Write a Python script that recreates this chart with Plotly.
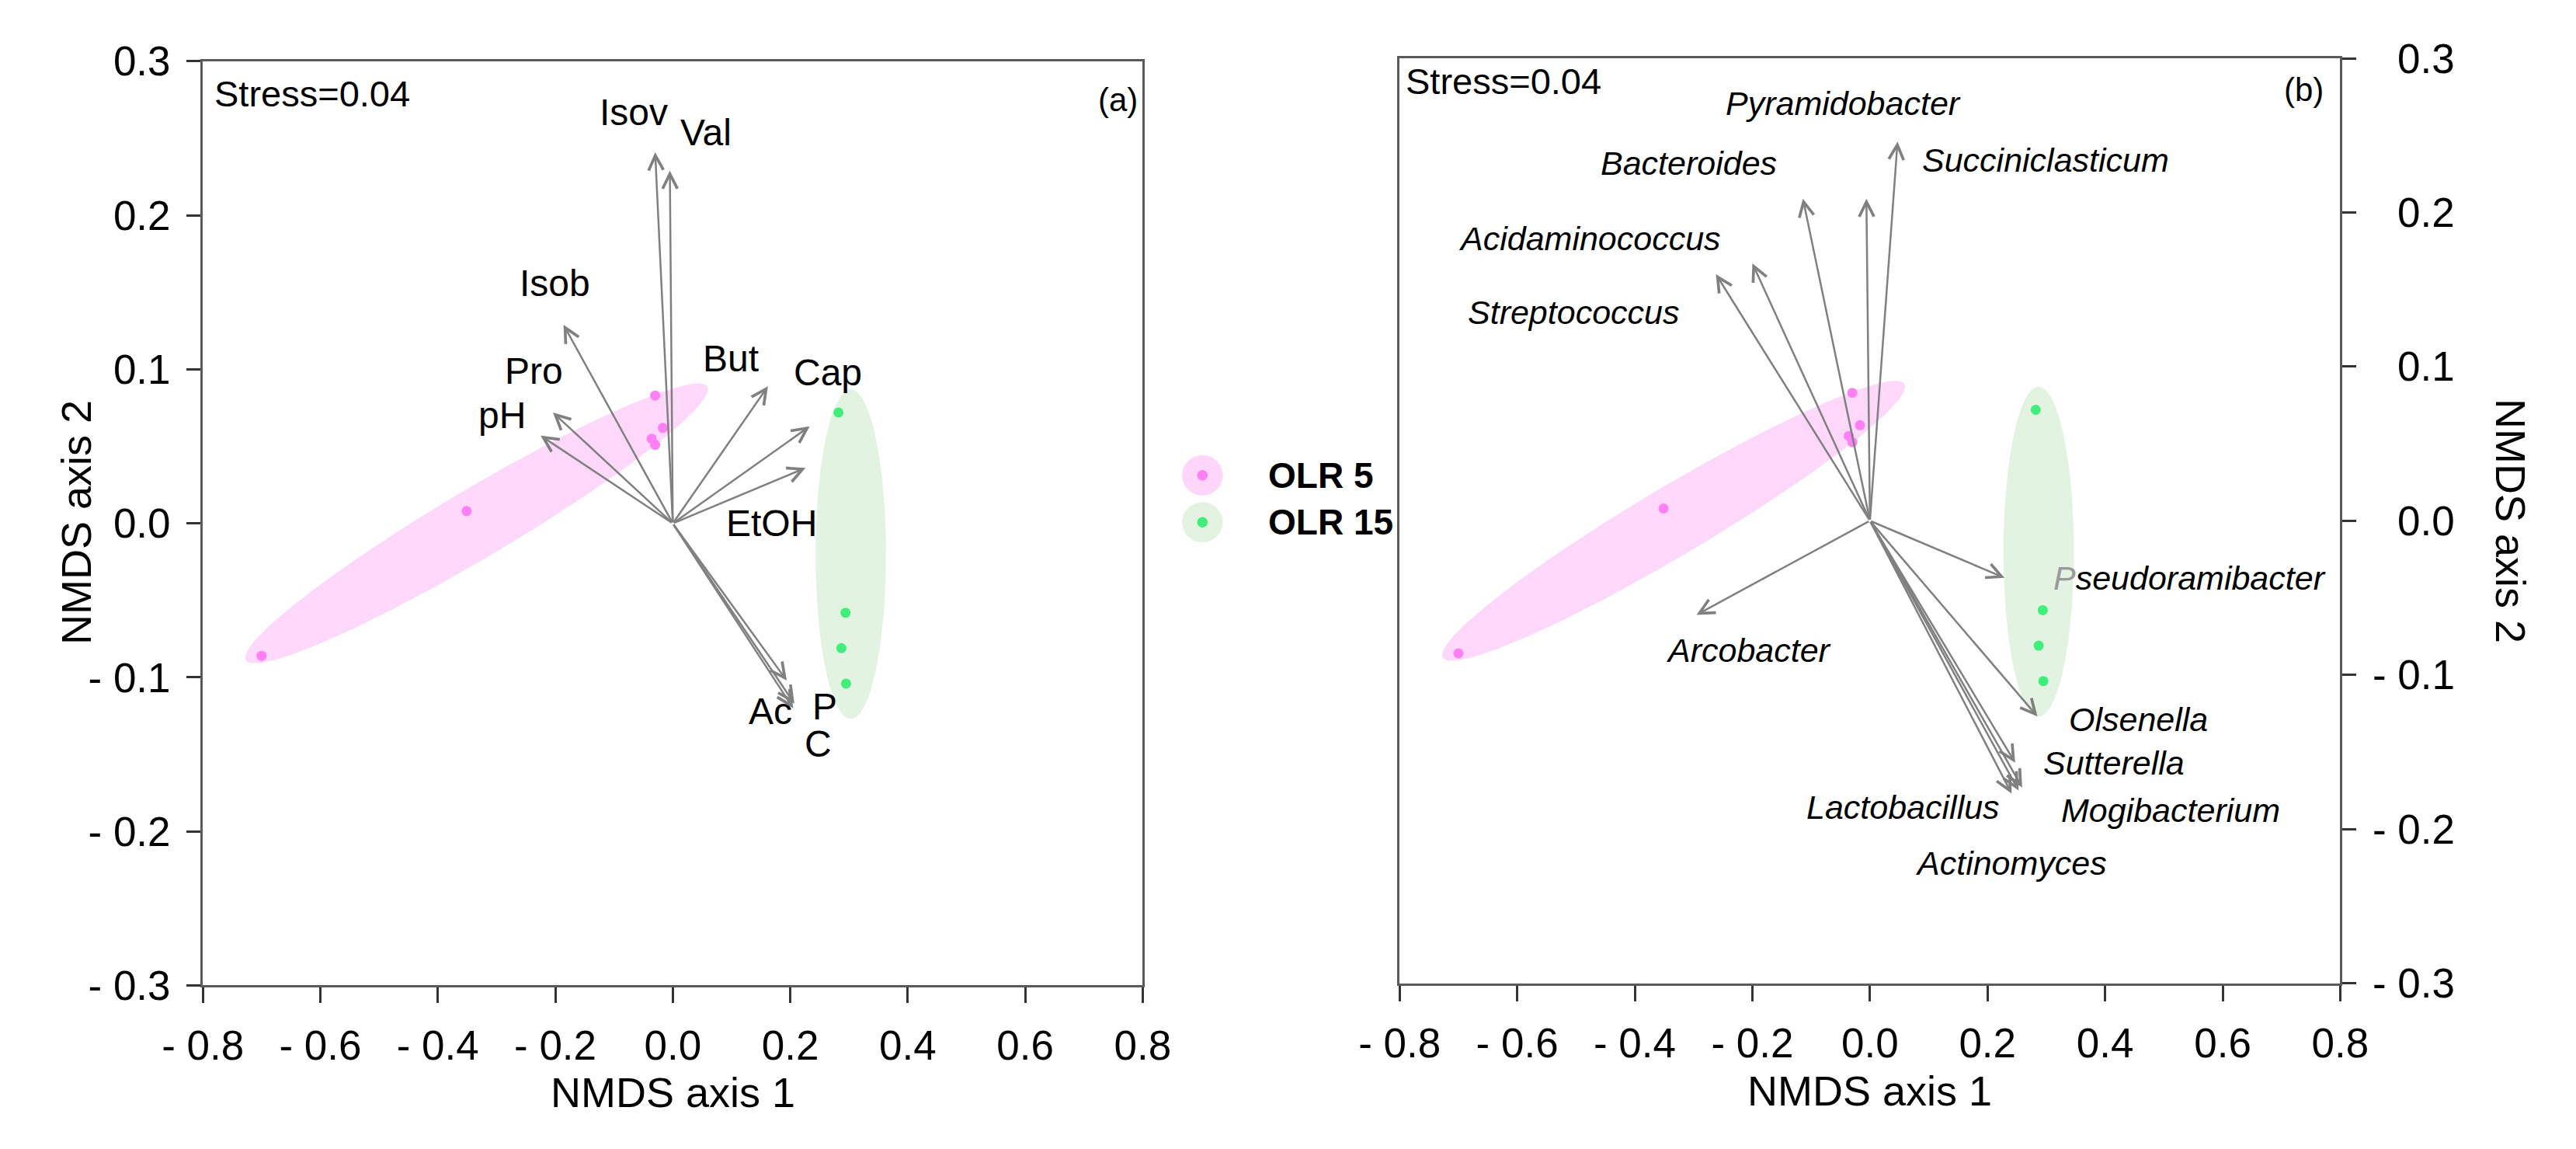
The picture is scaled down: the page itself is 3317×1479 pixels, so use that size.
import numpy as np
import plotly.graph_objects as go

W, H = 3317, 1479
FONT = "Liberation Sans, Arial, sans-serif"

# ---------------- data ----------------
# NMDS sample scores
olr5_x = [-0.030, -0.017, -0.036, -0.030, -0.351, -0.700]
olr5_y = [0.083, 0.062, 0.055, 0.051, 0.008, -0.086]
olr15_x = [0.282, 0.294, 0.287, 0.295]
olr15_y = [0.072, -0.058, -0.081, -0.104]

# group ellipses: centre, semi-axis vectors (data units)
ell5_center = (-0.334, 0.0)
ell5_u = (0.3925, 0.0888)
ell5_v = (-0.0305, 0.0191)
ell15_center_a = (0.303, -0.020)
ell15_center_b = (0.287, -0.020)
ell15_u = (0.0, 0.107)
ell15_v = (0.060, 0.0)

# panel (a) environmental vectors
env_names = ["Isov", "Val", "Isob", "Pro", "pH", "But", "Cap", "EtOH", "Ac", "P", "C"]
env_x = [-0.030, -0.005, -0.186, -0.204, -0.225, 0.162, 0.233, 0.226, 0.194, 0.207, 0.205]
env_y = [0.241, 0.229, 0.129, 0.072, 0.057, 0.089, 0.063, 0.036, -0.102, -0.117, -0.120]
env_lab_x = [-0.066, 0.057, -0.201, -0.237, -0.291, 0.099, 0.264, 0.168, 0.166, 0.259, 0.248]
env_lab_y = [0.267, 0.254, 0.156, 0.099, 0.070, 0.107, 0.098, 0.000, -0.122, -0.119, -0.143]

# panel (b) genus vectors
gen_names = ["Succiniclasticum", "Pyramidobacter", "Bacteroides", "Acidaminococcus",
             "Streptococcus", "Arcobacter", "Pseudoramibacter", "Olsenella",
             "Sutterella", "Mogibacterium", "Actinomyces", "Lactobacillus"]
gen_x = [0.047, -0.006, -0.114, -0.200, -0.262, -0.295, 0.229, 0.285, 0.247, 0.259, 0.253, 0.241]
gen_y = [0.246, 0.209, 0.209, 0.167, 0.160, -0.061, -0.037, -0.127, -0.157, -0.173, -0.175, -0.177]
gen_lab_x = [0.299, -0.046, -0.308, -0.476, -0.505, -0.206, 0.310, 0.456, 0.415, 0.511, 0.240, 0.056]
gen_lab_y = [0.234, 0.271, 0.232, 0.183, 0.135, -0.084, -0.037, -0.129, -0.157, -0.188, -0.222, -0.186]

x_ticks = [-0.8, -0.6, -0.4, -0.2, 0.0, 0.2, 0.4, 0.6, 0.8]
x_ticktext = ["- 0.8", "- 0.6", "- 0.4", "- 0.2", "0.0", "0.2", "0.4", "0.6", "0.8"]
y_ticks = [-0.3, -0.2, -0.1, 0.0, 0.1, 0.2, 0.3]
y_ticktext = ["- 0.3", "- 0.2", "- 0.1", "0.0", "0.1", "0.2", "0.3"]

group_names = ["OLR 5", "OLR 15"]

# ---------------- styles ----------------
PINK_FILL = "rgba(253,214,250,0.95)"
PINK_PT = "#FF80F4"
GREEN_FILL = "rgba(226,242,223,0.95)"
GREEN_PT = "#3FEF7A"
ARROW = "#808080"
AXC = "#5a5a5a"


def ellipse(center, u, v, n=200):
    t = np.linspace(0, 2 * np.pi, n)
    x = center[0] + np.cos(t) * u[0] + np.sin(t) * v[0]
    y = center[1] + np.cos(t) * u[1] + np.sin(t) * v[1]
    return x, y


fig = go.Figure()

for xa, ya, c15 in (("x", "y", ell15_center_a), ("x2", "y2", ell15_center_b)):
    ex, ey = ellipse(ell5_center, ell5_u, ell5_v)
    fig.add_trace(go.Scatter(x=ex, y=ey, fill="toself", fillcolor=PINK_FILL,
                             line=dict(width=0), mode="lines", xaxis=xa, yaxis=ya,
                             showlegend=False, hoverinfo="skip"))
    ex, ey = ellipse(c15, ell15_u, ell15_v)
    fig.add_trace(go.Scatter(x=ex, y=ey, fill="toself", fillcolor=GREEN_FILL,
                             line=dict(width=0), mode="lines", xaxis=xa, yaxis=ya,
                             showlegend=False, hoverinfo="skip"))
    fig.add_trace(go.Scatter(x=olr5_x, y=olr5_y, mode="markers", xaxis=xa, yaxis=ya,
                             marker=dict(color=PINK_PT, size=13), showlegend=False,
                             name=group_names[0]))
    fig.add_trace(go.Scatter(x=olr15_x, y=olr15_y, mode="markers", xaxis=xa, yaxis=ya,
                             marker=dict(color=GREEN_PT, size=13), showlegend=False,
                             name=group_names[1]))

ann = []


def arrow(x, y, xr, yr):
    return dict(x=x, y=y, ax=0, ay=0, xref=xr, yref=yr, axref=xr, ayref=yr,
                showarrow=True, text="", arrowhead=5, arrowsize=1.5,
                arrowwidth=2.5, arrowcolor=ARROW, standoff=0, startstandoff=0)


for i, nm in enumerate(env_names):
    ann.append(arrow(env_x[i], env_y[i], "x", "y"))
    ann.append(dict(x=env_lab_x[i], y=env_lab_y[i], xref="x", yref="y", text=nm,
                    showarrow=False, xanchor="center", yanchor="middle",
                    font=dict(family=FONT, size=48, color="black")))

for i, nm in enumerate(gen_names):
    ann.append(arrow(gen_x[i], gen_y[i], "x2", "y2"))
    if nm == "Pseudoramibacter":
        txt = "<i><span style='color:#9a9a9a'>P</span>seudoramibacter</i>"
        xanc = "left"
    else:
        txt = "<i>" + nm + "</i>"
        xanc = "center"
    ann.append(dict(x=gen_lab_x[i], y=gen_lab_y[i], xref="x2", yref="y2", text=txt,
                    showarrow=False, xanchor=xanc, yanchor="middle",
                    font=dict(family=FONT, size=43, color="black")))

# right panel tick labels (right aligned, as in the original)
for v, t in zip(y_ticks, y_ticktext):
    ann.append(dict(x=3197 / W, y=v, xref="paper", yref="y2", text=t, showarrow=False,
                    xanchor="right", yanchor="middle",
                    font=dict(family=FONT, size=53, color="black")))

# texts
ann += [
    dict(x=227 / W, y=1 - 95 / H, xref="paper", yref="paper", text="Stress=0.04",
         showarrow=False, xanchor="left", yanchor="middle",
         font=dict(family=FONT, size=47, color="black")),
    dict(x=1804 / W, y=1 - 79 / H, xref="paper", yref="paper", text="Stress=0.04",
         showarrow=False, xanchor="left", yanchor="middle",
         font=dict(family=FONT, size=47, color="black")),
    dict(x=1453 / W, y=1 - 104 / H, xref="paper", yref="paper", text="(a)",
         showarrow=False, xanchor="right", yanchor="middle",
         font=dict(family=FONT, size=42, color="black")),
    dict(x=3023 / W, y=1 - 90 / H, xref="paper", yref="paper", text="(b)",
         showarrow=False, xanchor="right", yanchor="middle",
         font=dict(family=FONT, size=42, color="black")),
    dict(x=836 / W, y=1 - 1434 / H, xref="paper", yref="paper", text="NMDS axis 1",
         showarrow=False, xanchor="center", yanchor="middle",
         font=dict(family=FONT, size=54, color="black")),
    dict(x=2420 / W, y=1 - 1432 / H, xref="paper", yref="paper", text="NMDS axis 1",
         showarrow=False, xanchor="center", yanchor="middle",
         font=dict(family=FONT, size=54, color="black")),
    dict(x=47 / W, y=1 - 670 / H, xref="paper", yref="paper", text="NMDS axis 2",
         showarrow=False, xanchor="center", yanchor="middle", textangle=-90,
         font=dict(family=FONT, size=54, color="black")),
    dict(x=3268 / W, y=1 - 668 / H, xref="paper", yref="paper", text="NMDS axis 2",
         showarrow=False, xanchor="center", yanchor="middle", textangle=90,
         font=dict(family=FONT, size=54, color="black")),
]

# legend
shapes = []
leg_cx = 1537
leg_rows = [(607, "rgba(253,214,250,1)", PINK_PT), (670, "rgba(228,243,225,1)", GREEN_PT)]
for (cy, halo, dot), nm in zip(leg_rows, group_names):
    for r, col in ((27, halo), (7, dot)):
        shapes.append(dict(type="circle", xref="paper", yref="paper",
                           x0=(leg_cx - r) / W, x1=(leg_cx + r) / W,
                           y0=1 - (cy + r) / H, y1=1 - (cy - r) / H,
                           fillcolor=col, line=dict(width=0)))
    ann.append(dict(x=1622 / W, y=1 - cy / H, xref="paper", yref="paper",
                    text="<b>" + nm + "</b>", showarrow=False, xanchor="left",
                    yanchor="middle", font=dict(family=FONT, size=46, color="black")))

common_x = dict(range=[-0.8, 0.8], tickvals=x_ticks, ticktext=x_ticktext, ticks="outside",
                ticklen=20, tickwidth=2.5, tickcolor="#333", showline=True, mirror=True,
                linecolor=AXC, linewidth=3, showgrid=False, zeroline=False,
                tickfont=dict(family=FONT, size=53, color="black"), ticklabelstandoff=9)
common_y = dict(range=[-0.3, 0.3], tickvals=y_ticks, ticktext=y_ticktext, ticks="outside",
                ticklen=18, tickwidth=2.5, tickcolor="#333", showline=True, mirror=True,
                linecolor=AXC, linewidth=3, showgrid=False, zeroline=False,
                tickfont=dict(family=FONT, size=53, color="black"))

fig.update_layout(
    width=W, height=H, margin=dict(l=0, r=0, t=0, b=0),
    paper_bgcolor="white", plot_bgcolor="white", showlegend=False,
    xaxis=dict(domain=[214 / W, 1458 / W], anchor="y", **common_x),
    yaxis=dict(domain=[1 - 1291 / H, 1 - 52 / H], anchor="x", ticklabelstandoff=10, **common_y),
    xaxis2=dict(domain=[1798 / W, 3043 / W], anchor="y2", **common_x),
    yaxis2=dict(domain=[1 - 1288 / H, 1 - 48 / H], anchor="x2", side="right",
                showticklabels=False, **common_y),
    annotations=ann, shapes=shapes,
)

fig.write_html("out.html", config={"displayModeBar": False},
               post_script="document.body.style.margin='0';")
